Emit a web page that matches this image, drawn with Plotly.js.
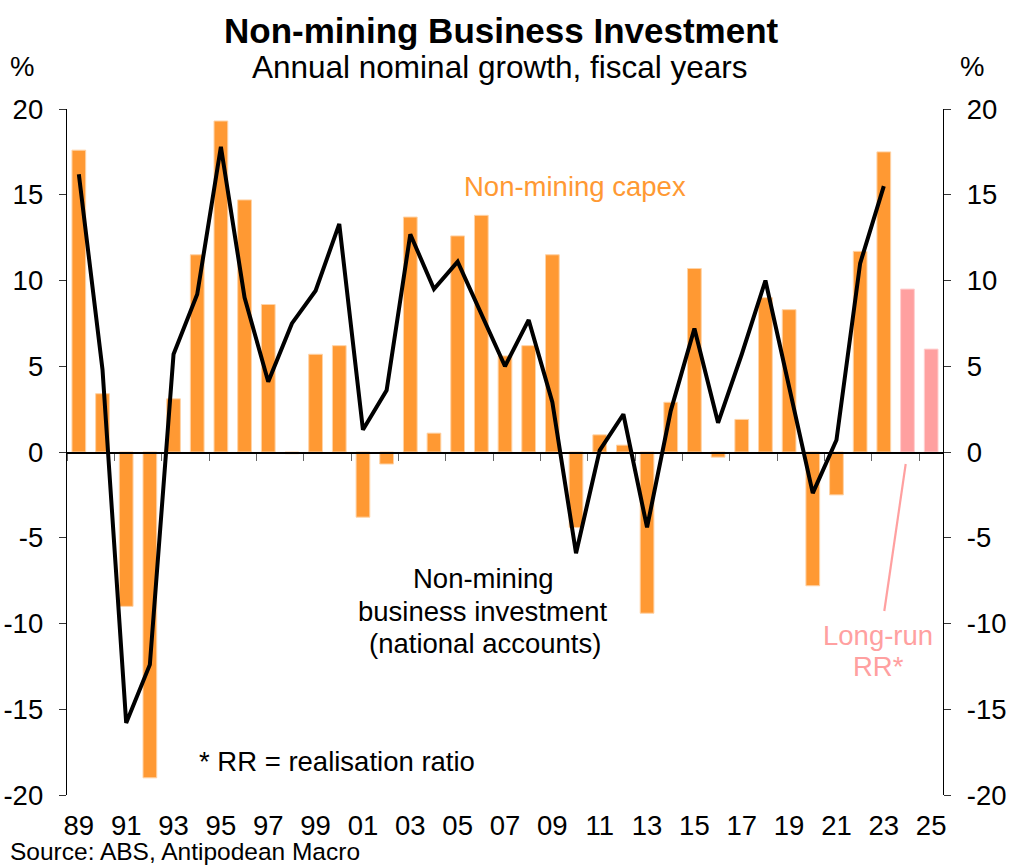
<!DOCTYPE html>
<html>
<head>
<meta charset="utf-8">
<script src="https://cdn.plot.ly/plotly-3.0.1.min.js"></script>
<style>
  html, body { margin: 0; padding: 0; background: #ffffff; }
  #chart { width: 1013px; height: 868px; }
</style>
</head>
<body>
<div id="chart"></div>
<script>
// Fiscal years (year ending June)
const capexYears = [1989, 1990, 1991, 1992, 1993, 1994, 1995, 1996, 1997, 1998,
                    1999, 2000, 2001, 2002, 2003, 2004, 2005, 2006, 2007, 2008,
                    2009, 2010, 2011, 2012, 2013, 2014, 2015, 2016, 2017, 2018,
                    2019, 2020, 2021, 2022, 2023];
// Non-mining capex, annual nominal growth (%)
const capexGrowth = [17.6, 3.4, -9.0, -19.0, 3.1, 11.5, 19.3, 14.7, 8.6, -0.1,
                     5.7, 6.2, -3.8, -0.7, 13.7, 1.1, 12.6, 13.8, 5.6, 6.2,
                     11.5, -4.4, 1.0, 0.4, -9.4, 2.9, 10.7, -0.3, 1.9, 9.0,
                     8.3, -7.8, -2.5, 11.7, 17.5];
// Capex expectations with long-run realisation ratio
const rrYears = [2024, 2025];
const rrGrowth = [9.5, 6.0];
// Non-mining business investment (national accounts), annual nominal growth (%)
const naYears = capexYears;
const naGrowth = [16.2, 4.8, -15.8, -12.4, 5.7, 9.2, 17.8, 9.0, 4.1, 7.5,
                  9.4, 13.3, 1.3, 3.6, 12.7, 9.5, 11.1, 8.0, 5.0, 7.7,
                  2.9, -5.9, 0.1, 2.2, -4.4, 2.4, 7.2, 1.7, 5.7, 10.0,
                  3.9, -2.4, 0.7, 11.0, 15.5];
// Axis tick labels
const tickYears = [1989, 1991, 1993, 1995, 1997, 1999, 2001, 2003, 2005, 2007,
                   2009, 2011, 2013, 2015, 2017, 2019, 2021, 2023, 2025];
const tickText = ['89', '91', '93', '95', '97', '99', '01', '03', '05', '07',
                  '09', '11', '13', '15', '17', '19', '21', '23', '25'];
const yTickVals = [-20, -15, -10, -5, 0, 5, 10, 15, 20];
const yTickText = ['-20', '-15', '-10', '-5', '0', '5', '10', '15', '20'];

const FONT = 'Liberation Sans, Arial, sans-serif';
const ORANGE = '#FF9933';
const PINK = '#FFA0A0';
const XR = [1988.5, 2025.5];
const YR = [-20, 20];

// Paper-coordinate helpers (plot area: left 67, top 109, 876 x 686 px)
const W = 876, H = 686, L = 67, T = 109;
const px = v => (v - L) / W;
const py = v => 1 - (v - T) / H;

const traces = [
  {
    type: 'bar', x: capexYears, y: capexGrowth, width: 0.58,
    marker: { color: ORANGE, line: { color: '#FFD3A6', width: 1 } },
    hoverinfo: 'x+y', xaxis: 'x', yaxis: 'y'
  },
  {
    type: 'bar', x: rrYears, y: rrGrowth, width: 0.58,
    marker: { color: PINK, line: { color: '#FFD0D0', width: 1 } },
    hoverinfo: 'x+y', xaxis: 'x', yaxis: 'y'
  },
  {
    type: 'scatter', mode: 'lines', x: naYears, y: naGrowth,
    line: { color: '#000000', width: 4 },
    xaxis: 'x2', yaxis: 'y2'
  }
];

function ann(text, x, y, size, color, xanchor) {
  return {
    text: text, xref: 'paper', yref: 'paper', x: px(x), y: py(y),
    xanchor: xanchor || 'center', yanchor: 'middle', showarrow: false,
    font: { family: FONT, size: size, color: color || '#000000' }
  };
}

const yAxisCommon = {
  range: YR, tickmode: 'array', tickvals: yTickVals, ticktext: yTickText,
  showline: true, linecolor: '#000000', linewidth: 1.3,
  ticks: 'outside', ticklen: 7, tickwidth: 1, tickcolor: '#333333',
  showgrid: false, zeroline: false, ticklabelstandoff: 10,
  tickfont: { family: FONT, size: 27.5, color: '#000000' }
};

const layout = {
  width: 1013, height: 868,
  margin: { l: L, r: 1013 - L - W, t: T, b: 868 - T - H },
  paper_bgcolor: '#ffffff', plot_bgcolor: '#ffffff',
  showlegend: false,
  barmode: 'overlay',
  font: { family: FONT, size: 27.5, color: '#000000' },
  xaxis: {
    range: XR, showline: false, showgrid: false, zeroline: false,
    tickmode: 'array', tickvals: tickYears, ticktext: tickText,
    ticks: '', ticklabelstandoff: 11,
    tickfont: { family: FONT, size: 27.5, color: '#000000' }
  },
  xaxis2: {
    range: XR, overlaying: 'x', anchor: 'free', position: 0.5,
    showline: true, linecolor: '#000000', linewidth: 1.5,
    showgrid: false, zeroline: false,
    tickmode: 'linear', tick0: 1990.5, dtick: 2,
    ticks: 'outside', ticklen: 7, tickwidth: 1, tickcolor: '#666666',
    showticklabels: false
  },
  yaxis: Object.assign({}, yAxisCommon),
  yaxis2: Object.assign({}, yAxisCommon, {
    overlaying: 'y', side: 'right', anchor: 'free', position: 1
  }),
  shapes: [
    {
      type: 'line', xref: 'paper', yref: 'paper',
      x0: px(905.7), y0: py(464), x1: px(884.3), y1: py(611),
      line: { color: PINK, width: 2.2 }
    }
  ],
  annotations: [
    ann('<b>Non-mining Business Investment</b>', 501, 30, 35),
    ann('Annual nominal growth, fiscal years', 500, 67, 31.5),
    ann('%', 21.5, 67, 27.5),
    ann('%', 972, 67, 27.5),
    ann('Non-mining capex', 575, 187, 27.5, ORANGE),
    ann('Non-mining', 483, 578, 27.5),
    ann('business investment', 483, 611, 27.5),
    ann('(national accounts)', 485, 643, 27.5),
    ann('* RR = realisation ratio', 337, 761.7, 27.5),
    ann('Long-run', 877.5, 635.5, 27.5, PINK),
    ann('RR*', 878, 666.5, 27.5, PINK),
    ann('Source: ABS, Antipodean Macro', 8, 851, 24.5, '#000000', 'left')
  ]
};

Plotly.newPlot('chart', traces, layout, { displayModeBar: false, staticPlot: true });
</script>
</body>
</html>
